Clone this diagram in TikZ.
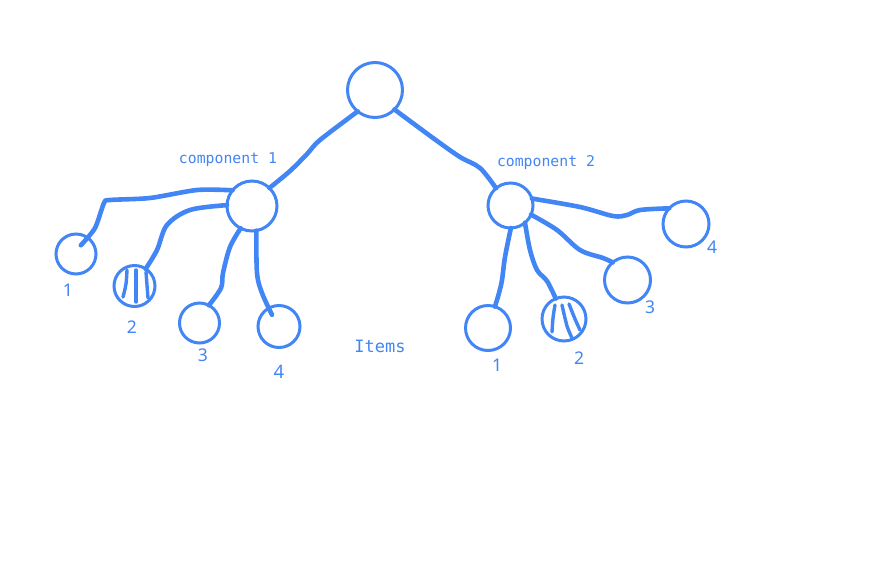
\documentclass[tikz,border=0pt]{standalone}
\usepackage{fontspec}
\newfontfamily\monof{DejaVu Sans Mono}
\newfontfamily\numf{Noto Sans}
\usetikzlibrary{calc}
\definecolor{gblue}{HTML}{4285F4}
\definecolor{tblue}{HTML}{4285F4}
\begin{document}
\begin{tikzpicture}[x=1pt,y=-1pt,
  circ/.style={circle,draw=gblue,line width=3pt,inner sep=0pt,outer sep=0pt,fill=white},
  conn/.style={draw=gblue,line width=4.6pt,line cap=round,line join=round},
  hatch/.style={draw=gblue,line width=3.4pt,line cap=round},
  lbl/.style={text=tblue,inner sep=0pt,font=\numf\fontsize{17.5}{20}\selectfont},
  mono/.style={text=tblue,inner sep=0pt,font=\monof\fontsize{14.8}{17}\selectfont}]
\useasboundingbox (0,0) rectangle (880,560);
% nodes
\node[circ,minimum size=55pt] (root) at (375,90) {};
\node[circ,minimum size=50pt] (c1) at (252,206) {};
\node[circ,minimum size=45pt] (c2) at (510.5,205.5) {};
\node[circ,minimum size=40pt] (l1) at (76,254) {};
\node[circ,minimum size=41pt] (l2) at (134.5,286) {};
\node[circ,minimum size=40pt] (l3) at (199.5,323) {};
\node[circ,minimum size=42pt] (l4) at (279,326.5) {};
\node[circ,minimum size=45pt] (r1) at (488,328) {};
\node[circ,minimum size=44pt] (r2) at (564,319) {};
\node[circ,minimum size=46pt] (r3) at (627.5,280) {};
\node[circ,minimum size=46pt] (r4) at (686,224) {};
% connectors
\draw[conn] plot[smooth,tension=0.55] coordinates {(root.231) (320,140) (307,154) (290,171) (c1.46)};
\draw[conn] plot[smooth,tension=0.55] coordinates {(root.315) (433,138) (460,157) (480,168) (c2.130)};
\coordinate (l1e) at ($(l1.center)!0.5!(l1.61)$);
\draw[conn] plot[smooth,tension=0.45] coordinates {(c1.141) (197,190) (150,198) (110,200) (104,203) (95,228) (l1e)};
\draw[conn] plot[smooth,tension=0.55] coordinates {(c1.178) (190,210) (167,225) (157,250) (l2.57)};
\draw[conn] plot[smooth,tension=0.55] coordinates {(c1.243) (230,247) (223,273) (221,288) (l3.62)};
\coordinate (l4e) at ($(l4.center)!0.65!(l4.121)$);
\draw[conn] plot[smooth,tension=0.55] coordinates {(c1.280) (257,273) (262,293) (l4e)};
\draw[conn] plot[smooth,tension=0.55] coordinates {(c2.271) (505,257) (502,280) (499,293) (r1.72)};
\draw[conn] plot[smooth,tension=0.55] coordinates {(c2.310) (530,250) (537,270) (547,281) (r2.112)};
\draw[conn] plot[smooth,tension=0.55] coordinates {(c2.336) (557,230) (580,250) (603,258) (r3.130)};
\draw[conn] plot[smooth,tension=0.55] coordinates {(c2.18) (580,207) (613,216) (627,215) (640,210) (r4.137)};
% hatches
\draw[hatch] plot[smooth] coordinates {(127,270) (126,284) (123,297)};
\draw[hatch] (136,270) -- (136,302);
\draw[hatch] plot[smooth] coordinates {(146,272) (147,285) (148,298)};
\draw[hatch] plot[smooth] coordinates {(555,305) (553,318) (552,332)};
\draw[hatch] plot[smooth] coordinates {(562,305) (567,326) (572,338)};
\draw[hatch] plot[smooth] coordinates {(569,304) (575,319) (580,330)};
% labels
\node[mono] (t1) at (228,160) {component 1};
\node[mono] (t2) at (546,163) {component 2};
\node[mono,font=\monof\fontsize{17}{20}\selectfont] (items) at (380,346) {Items};
\node[lbl] (nl1) at (68,290) {1};
\node[lbl] (nl2) at (132,327) {2};
\node[lbl] (nl3) at (203,355) {3};
\node[lbl,font=\numf\fontsize{18.5}{20}\selectfont] (nl4) at (279,372) {4};
\node[lbl] (nr1) at (497,365) {1};
\node[lbl] (nr2) at (579,358) {2};
\node[lbl] (nr3) at (650,307) {3};
\node[lbl] (nr4) at (712,247) {4};
\end{tikzpicture}
\end{document}
